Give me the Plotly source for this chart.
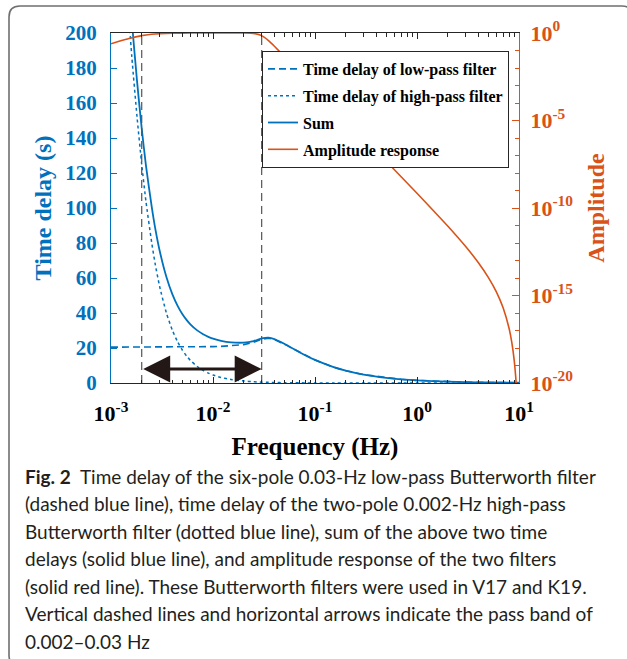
import numpy as np
import plotly.graph_objects as go

# ---------------- data ----------------
freq_delay = [0.001, 0.0012, 0.0014, 0.0016, 0.0018, 0.002, 0.0022, 0.0025, 0.0027, 0.003,
              0.0035, 0.004, 0.0045, 0.005, 0.0055, 0.006, 0.007, 0.008, 0.009, 0.01,
              0.012, 0.015, 0.02, 0.025, 0.03, 0.035, 0.04, 0.05, 0.06, 0.08,
              0.1, 0.15, 0.2, 0.3, 0.5, 0.7, 1, 2, 3, 5, 10]
delay_lowpass = [20.50, 20.50, 20.50, 20.50, 20.50, 20.50, 20.51, 20.51, 20.51, 20.52,
                 20.53, 20.54, 20.55, 20.57, 20.58, 20.60, 20.63, 20.68, 20.73, 20.79,
                 20.93, 21.21, 21.95, 23.27, 25.00, 25.58, 24.84, 22.22, 19.70, 15.82,
                 13.13, 9.18, 7.04, 4.79, 2.93, 2.11, 1.48, 0.75, 0.50, 0.30, 0.15]
delay_highpass = [379.7, 293.9, 232.7, 186.5, 152.0, 125.0, 103.9, 80.65, 68.6, 55.08,
                  39.84, 30.08, 23.50, 18.86, 15.48, 12.94, 9.42, 7.18, 5.64, 4.56,
                  3.15, 2.01, 1.13, 0.72, 0.50, 0.37, 0.28, 0.18, 0.125, 0.07,
                  0.045, 0.02, 0.011, 0.005, 0.002, 0.001, 0.0005, 0.0001, 0.0, 0.0, 0.0]
delay_sum = [400.2, 314.4, 253.2, 207.0, 172.5, 145.5, 124.4, 101.2, 89.1, 75.6,
             60.4, 50.6, 44.05, 39.43, 36.06, 33.54, 30.05, 27.86, 26.37, 25.35,
             24.08, 23.22, 23.08, 23.99, 25.50, 25.95, 25.12, 22.40, 19.83, 15.89,
             13.18, 9.20, 7.05, 4.79, 2.93, 2.11, 1.48, 0.75, 0.50, 0.30, 0.15]

freq_amp = [0.001, 0.0012, 0.0015, 0.002, 0.0025, 0.003, 0.004, 0.005, 0.007, 0.01,
            0.015, 0.02, 0.025, 0.03, 0.035, 0.04, 0.05, 0.07, 0.1, 0.2,
            0.5, 1, 2, 3, 4, 5, 6, 7, 8, 8.5, 9, 9.3, 9.5, 9.7]
amplitude = [0.2425, 0.3387, 0.4903, 0.7071, 0.8423, 0.9138, 0.9701, 0.9875, 0.9967, 0.9992,
             0.9995, 0.9961, 0.9482, 0.7071, 0.3686, 0.1752, 0.04662, 6.20e-3, 7.29e-4, 1.14e-5,
             4.67e-8, 6.9e-10, 9.3e-12, 6.25e-13, 7.45e-14, 1.09e-14, 1.61e-15, 1.91e-16, 1.29e-17,
             2.10e-18, 1.73e-19, 1.98e-20, 2.6e-21, 1.0e-22]

pass_band = [0.002, 0.03]
arrow_delay = 8
delay_range = [0, 200]
amp_exp_range = [-20, 0]
x_ticks = [1e-3, 1e-2, 1e-1, 1e0, 1e1]
x_ticktext = ["10<sup>-3</sup>", "10<sup>-2</sup>", "10<sup>-1</sup>", "10<sup>0</sup>", "10<sup>1</sup>"]
amp_ticks = [1e-20, 1e-15, 1e-10, 1e-5, 1e0]
amp_ticktext = ["10<sup>-20</sup>", "10<sup>-15</sup>", "10<sup>-10</sup>", "10<sup>-5</sup>", "10<sup>0</sup>"]

caption_lines = [
    "<b>Fig. 2</b>\u00a0\u00a0Time delay of the six-pole 0.03-Hz low-pass Butterworth filter",
    "(dashed blue line), time delay of the two-pole 0.002-Hz high-pass",
    "Butterworth filter (dotted blue line), sum of the above two time",
    "delays (solid blue line), and amplitude response of the two filters",
    "(solid red line). These Butterworth filters were used in V17 and K19.",
    "Vertical dashed lines and horizontal arrows indicate the pass band of",
    "0.002\u20130.03 Hz",
]

# ---------------- styling ----------------
W, H = 627, 659
L, R, T, B = 111, 108, 33, 276
PW, PH = W - L - R, H - T - B
BLUE = "#0072BD"
ORANGE = "#D95319"
SERIF = "Liberation Serif"


def px_x(px):
    return (px - L) / PW


def px_y(py):
    return (H - B - py) / PH


fig = go.Figure()

fig.add_trace(go.Scatter(x=freq_delay, y=delay_lowpass, mode="lines", name="Time delay of low-pass filter",
                         line=dict(color=BLUE, width=1.6, dash="7px,4px"), legendgroup="a"))
fig.add_trace(go.Scatter(x=freq_delay, y=delay_highpass, mode="lines", name="Time delay of high-pass filter",
                         line=dict(color=BLUE, width=1.5, dash="dot", shape="spline", smoothing=0.6),
                         legendgroup="b"))
fig.add_trace(go.Scatter(x=freq_delay, y=delay_sum, mode="lines", name="Sum",
                         line=dict(color=BLUE, width=1.8, shape="spline", smoothing=0.6), legendgroup="c"))
fig.add_trace(go.Scatter(x=freq_amp, y=amplitude, mode="lines", name="Amplitude response", yaxis="y2",
                         line=dict(color=ORANGE, width=1.6, shape="spline", smoothing=0.4), legendgroup="d"))

# vertical dashed pass-band lines
for f in pass_band:
    fig.add_trace(go.Scatter(x=[f, f], y=delay_range, mode="lines", showlegend=False, hoverinfo="skip",
                             line=dict(color="#555555", width=1.2, dash="8px,5px")))

# double-headed arrow showing the pass band
fig.add_annotation(x=np.log10(pass_band[1]), y=arrow_delay, ax=np.log10(pass_band[0]), ay=arrow_delay,
                   xref="x", yref="y", axref="x", ayref="y", text="", showarrow=True,
                   arrowside="end+start", arrowhead=2, startarrowhead=2,
                   arrowsize=1.8, startarrowsize=1.8, arrowwidth=3, arrowcolor="#231815")

# caption
for i, line in enumerate(caption_lines):
    fig.add_annotation(x=px_x(23), y=px_y(476 + i * 27.5), xref="paper", yref="paper",
                       xanchor="left", yanchor="middle", showarrow=False, text=line,
                       font=dict(family="Lato", size=19, color="#231f20"))

# rounded frame
x0, x1, y0, y1, r = 9, 633, 6, 666, 11
path = (f"M {px_x(x0 + r)},{px_y(y0)} L {px_x(x1 - r)},{px_y(y0)} Q {px_x(x1)},{px_y(y0)} {px_x(x1)},{px_y(y0 + r)} "
        f"L {px_x(x1)},{px_y(y1 - r)} Q {px_x(x1)},{px_y(y1)} {px_x(x1 - r)},{px_y(y1)} "
        f"L {px_x(x0 + r)},{px_y(y1)} Q {px_x(x0)},{px_y(y1)} {px_x(x0)},{px_y(y1 - r)} "
        f"L {px_x(x0)},{px_y(y0 + r)} Q {px_x(x0)},{px_y(y0)} {px_x(x0 + r)},{px_y(y0)} Z")
fig.add_shape(type="path", path=path, xref="paper", yref="paper",
              line=dict(color="#6f6f6f", width=1.6), fillcolor="rgba(0,0,0,0)", layer="above")

fig.update_layout(
    width=W, height=H,
    margin=dict(l=L, r=R, t=T, b=B, pad=0),
    paper_bgcolor="white", plot_bgcolor="white",
    font=dict(family=SERIF, color="black"),
    xaxis=dict(type="log", range=[-3, 1], tickvals=x_ticks, ticktext=x_ticktext,
               ticks="inside", ticklen=6, tickwidth=1, tickcolor="#262626",
               showline=True, linecolor="#262626", linewidth=1, mirror="ticks",
               showgrid=False, zeroline=False,
               minor=dict(dtick="D1", ticks="inside", ticklen=3.5, tickcolor="#262626", showgrid=False),
               tickfont=dict(family=SERIF, size=22, color="black", weight="bold"),
               ticklabelstandoff=11,
               title=dict(text="Frequency (Hz)", font=dict(family=SERIF, size=25, color="black", weight="bold"),
                          standoff=12)),
    yaxis=dict(range=delay_range, dtick=20, tick0=0, ticks="inside", ticklen=6, tickcolor=BLUE,
               showline=True, linecolor=BLUE, linewidth=1, showgrid=False, zeroline=False,
               tickfont=dict(family=SERIF, size=21, color=BLUE, weight="bold"),
               ticklabelstandoff=9,
               title=dict(text="Time delay (s)", font=dict(family=SERIF, size=24, color=BLUE, weight="bold"),
                          standoff=6)),
    yaxis2=dict(type="log", range=amp_exp_range, overlaying="y", side="right",
                tickvals=amp_ticks, ticktext=amp_ticktext, ticks="inside", ticklen=7, tickcolor=ORANGE,
                showline=True, linecolor=ORANGE, linewidth=1, showgrid=False, zeroline=False,
                minor=dict(dtick=1, ticks="inside", ticklen=4, tickcolor=ORANGE, showgrid=False),
                tickfont=dict(family=SERIF, size=22, color=ORANGE, weight="bold"),
                ticklabelstandoff=6,
                title=dict(text="Amplitude", font=dict(family=SERIF, size=24, color=ORANGE, weight="bold"),
                           standoff=14)),
    legend=dict(x=px_x(262), y=px_y(51), xanchor="left", yanchor="top",
                bgcolor="white", bordercolor="#262626", borderwidth=1,
                font=dict(family=SERIF, size=16, color="black", weight="bold"),
                tracegroupgap=3, itemwidth=30),
    showlegend=True,
)

fig.write_html("out.html")
